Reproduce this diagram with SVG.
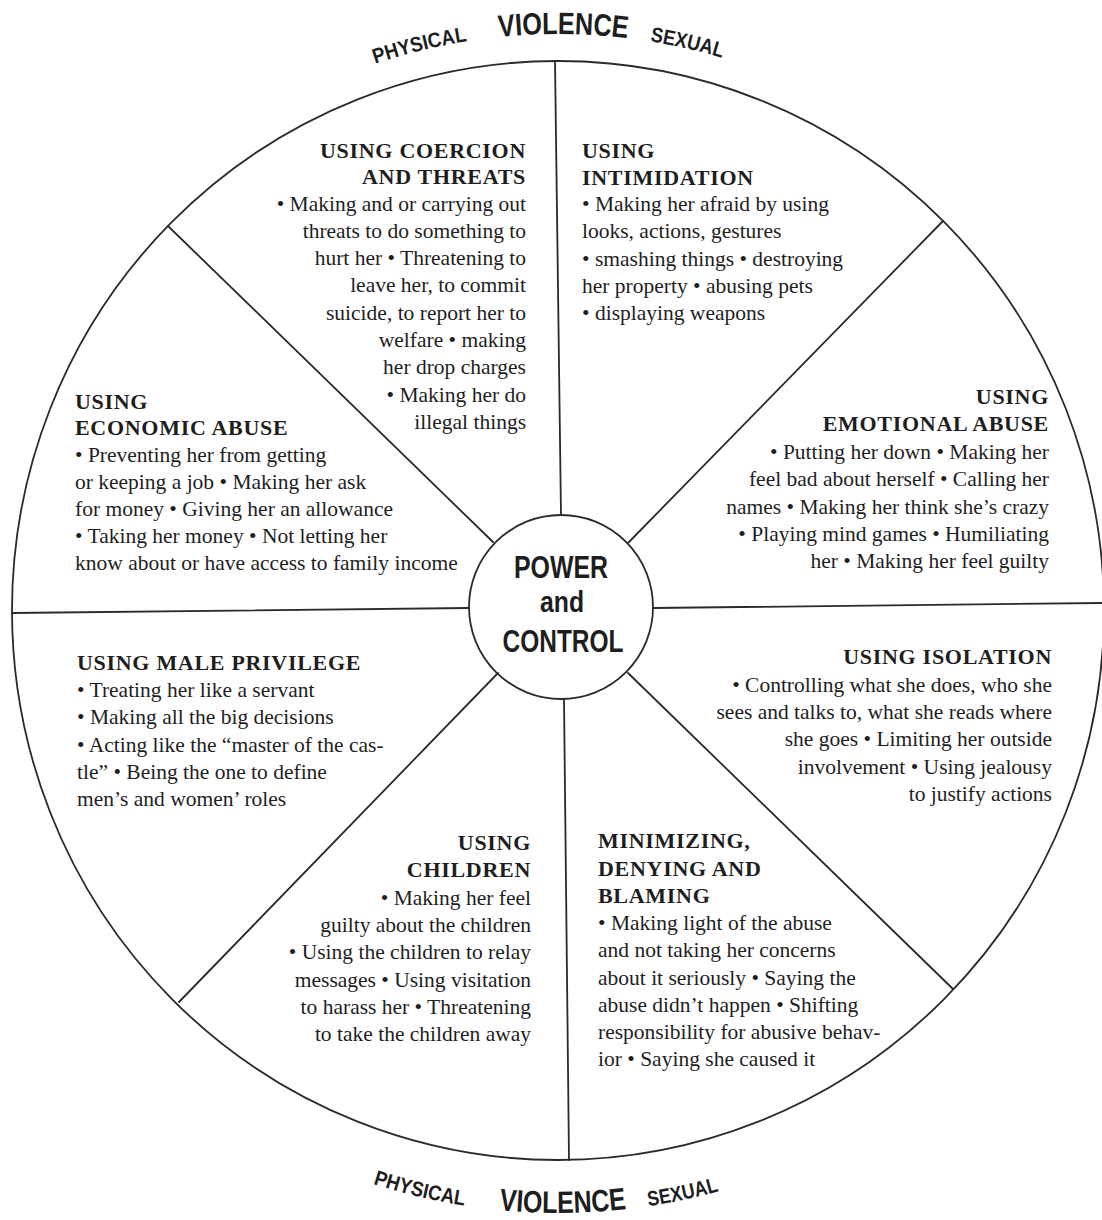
<svg xmlns="http://www.w3.org/2000/svg" width="1102" height="1220" viewBox="0 0 1102 1220">
<style>
.ln{stroke:#2a2a2a;stroke-width:1.8;fill:none;stroke-linecap:round}
.b{font-family:"Liberation Serif","Times New Roman",serif;font-size:21.5px;fill:#1e1e1e}
.h{font-family:"Liberation Serif","Times New Roman",serif;font-size:22px;font-weight:bold;fill:#1e1e1e;letter-spacing:0.7px}
.r{text-anchor:end}
.arcbig{font-family:"Liberation Sans",Arial,sans-serif;font-size:31px;font-weight:bold;fill:#1e1e1e}
.arcsm{font-family:"Liberation Sans",Arial,sans-serif;font-size:21px;font-weight:bold;fill:#1e1e1e}
.ctr{font-family:"Liberation Sans",Arial,sans-serif;font-weight:bold;fill:#1e1e1e;text-anchor:middle}
</style>
<defs>
<path id="topArc" d="M -18,610 A 576 576 0 0 1 1134,610"/>
<path id="botArc" d="M -45,610 A 603 603 0 0 0 1161,610"/>
</defs>
<rect width="1102" height="1220" fill="#ffffff"/>

<g id="wheel-rim">
<ellipse class="ln" cx="558" cy="610.5" rx="546" ry="549.5" stroke-width="2"/>
</g>

<g id="connectors">
<line class="ln" x1="561" y1="515" x2="555" y2="61"/>
<line class="ln" x1="564" y1="699" x2="569" y2="1160"/>
<line class="ln" x1="469" y1="608" x2="12" y2="613"/>
<line class="ln" x1="653" y1="608" x2="1102" y2="603"/>
<line class="ln" x1="493" y1="542" x2="168" y2="226"/>
<line class="ln" x1="628" y1="543" x2="943" y2="221"/>
<line class="ln" x1="498" y1="673" x2="179" y2="1002"/>
<line class="ln" x1="628" y1="673" x2="953" y2="989"/>
</g>

<g id="hub">
<circle class="ln" cx="561" cy="607" r="92"/>
<text class="ctr" x="561" y="578" font-size="32" textLength="94" lengthAdjust="spacingAndGlyphs">POWER</text>
<text class="ctr" x="562" y="612" font-size="30" textLength="44" lengthAdjust="spacingAndGlyphs">and</text>
<text class="ctr" x="563" y="652" font-size="32" textLength="121" lengthAdjust="spacingAndGlyphs">CONTROL</text>
</g>

<g id="violence-top">
<text class="arcsm"><textPath href="#topArc" startOffset="766" text-anchor="middle" textLength="95" lengthAdjust="spacingAndGlyphs">PHYSICAL</textPath></text>
<text class="arcbig"><textPath href="#topArc" startOffset="910" text-anchor="middle" textLength="129" lengthAdjust="spacingAndGlyphs">VIOLENCE</textPath></text>
<text class="arcsm"><textPath href="#topArc" startOffset="1034" text-anchor="middle" textLength="74" lengthAdjust="spacingAndGlyphs">SEXUAL</textPath></text>
</g>

<g id="violence-bottom">
<text class="arcsm"><textPath href="#botArc" startOffset="806" text-anchor="middle" textLength="94" lengthAdjust="spacingAndGlyphs">PHYSICAL</textPath></text>
<text class="arcbig"><textPath href="#botArc" startOffset="952" text-anchor="middle" textLength="128" lengthAdjust="spacingAndGlyphs">VIOLENCE</textPath></text>
<text class="arcsm"><textPath href="#botArc" startOffset="1074" text-anchor="middle" textLength="72" lengthAdjust="spacingAndGlyphs">SEXUAL</textPath></text>
</g>

<g id="coercion">
<text class="h r" x="526" y="158">USING COERCION</text>
<text class="h r" x="526" y="184">AND THREATS</text>
<text class="b r" x="526" y="211">• Making and or carrying out</text>
<text class="b r" x="526" y="238">threats to do something to</text>
<text class="b r" x="526" y="265">hurt her • Threatening to</text>
<text class="b r" x="526" y="292">leave her, to commit</text>
<text class="b r" x="526" y="320">suicide, to report her to</text>
<text class="b r" x="526" y="347">welfare • making</text>
<text class="b r" x="526" y="374">her drop charges</text>
<text class="b r" x="526" y="402">• Making her do</text>
<text class="b r" x="526" y="429">illegal things</text>
</g>

<g id="intimidation">
<text class="h" x="582" y="158">USING</text>
<text class="h" x="582" y="185">INTIMIDATION</text>
<text class="b" x="582" y="211">• Making her afraid by using</text>
<text class="b" x="582" y="238">looks, actions, gestures</text>
<text class="b" x="582" y="266">• smashing things • destroying</text>
<text class="b" x="582" y="293">her property • abusing pets</text>
<text class="b" x="582" y="320">• displaying weapons</text>
</g>

<g id="economic-abuse">
<text class="h" x="75" y="409">USING</text>
<text class="h" x="75" y="435">ECONOMIC ABUSE</text>
<text class="b" x="75" y="462">• Preventing her from getting</text>
<text class="b" x="75" y="489">or keeping a job • Making her ask</text>
<text class="b" x="75" y="516">for money • Giving her an allowance</text>
<text class="b" x="75" y="543">• Taking her money • Not letting her</text>
<text class="b" x="75" y="570">know about or have access to family income</text>
</g>

<g id="emotional-abuse">
<text class="h r" x="1049" y="404">USING</text>
<text class="h r" x="1049" y="431">EMOTIONAL ABUSE</text>
<text class="b r" x="1049" y="459">• Putting her down • Making her</text>
<text class="b r" x="1049" y="486">feel bad about herself • Calling her</text>
<text class="b r" x="1049" y="514">names • Making her think she’s crazy</text>
<text class="b r" x="1049" y="541">• Playing mind games • Humiliating</text>
<text class="b r" x="1049" y="568">her • Making her feel guilty</text>
</g>

<g id="male-privilege">
<text class="h" x="77" y="670">USING MALE PRIVILEGE</text>
<text class="b" x="77" y="697">• Treating her like a servant</text>
<text class="b" x="77" y="724">• Making all the big decisions</text>
<text class="b" x="77" y="752">• Acting like the “master of the cas-</text>
<text class="b" x="77" y="779">tle” • Being the one to define</text>
<text class="b" x="77" y="806">men’s and women’ roles</text>
</g>

<g id="isolation">
<text class="h r" x="1052" y="664">USING ISOLATION</text>
<text class="b r" x="1052" y="692">• Controlling what she does, who she</text>
<text class="b r" x="1052" y="719">sees and talks to, what she reads where</text>
<text class="b r" x="1052" y="746">she goes • Limiting her outside</text>
<text class="b r" x="1052" y="774">involvement • Using jealousy</text>
<text class="b r" x="1052" y="801">to justify actions</text>
</g>

<g id="children">
<text class="h r" x="531" y="850">USING</text>
<text class="h r" x="531" y="877">CHILDREN</text>
<text class="b r" x="531" y="905">• Making her feel</text>
<text class="b r" x="531" y="932">guilty about the children</text>
<text class="b r" x="531" y="959">• Using the children to relay</text>
<text class="b r" x="531" y="987">messages • Using visitation</text>
<text class="b r" x="531" y="1014">to harass her • Threatening</text>
<text class="b r" x="531" y="1041">to take the children away</text>
</g>

<g id="minimizing">
<text class="h" x="598" y="848">MINIMIZING,</text>
<text class="h" x="598" y="876">DENYING AND</text>
<text class="h" x="598" y="903">BLAMING</text>
<text class="b" x="598" y="930">• Making light of the abuse</text>
<text class="b" x="598" y="957">and not taking her concerns</text>
<text class="b" x="598" y="985">about it seriously • Saying the</text>
<text class="b" x="598" y="1012">abuse didn’t happen • Shifting</text>
<text class="b" x="598" y="1039">responsibility for abusive behav-</text>
<text class="b" x="598" y="1066">ior • Saying she caused it</text>
</g>
</svg>
